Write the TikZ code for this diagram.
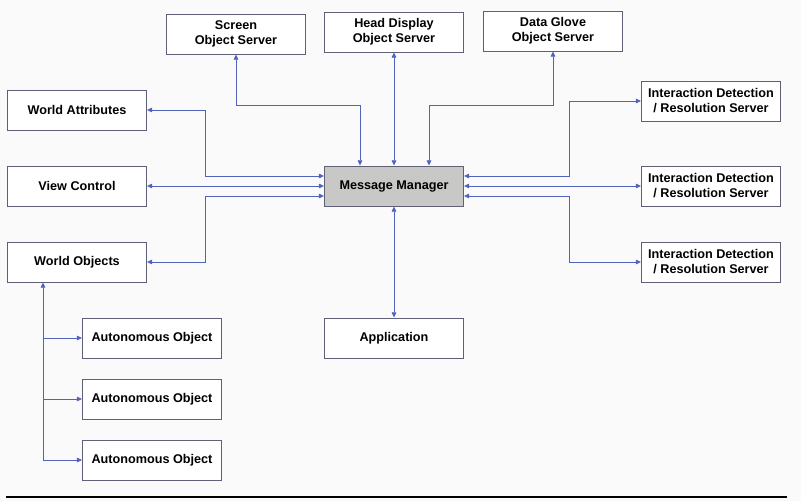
\documentclass[tikz,border=0pt]{standalone}
\usepackage{fontspec}
\setmainfont{Liberation Sans}
\usetikzlibrary{positioning,arrows.meta,calc}
\definecolor{boxline}{RGB}{95,95,120}
\definecolor{linkcol}{RGB}{80,100,190}
\definecolor{mgrfill}{RGB}{200,200,198}
\definecolor{bgcol}{RGB}{250,250,250}

\begin{document}
\begin{tikzpicture}[x=0.03cm, y=-0.03cm,
    box/.style={rectangle, draw=boxline, line width=0.8pt, fill=white, minimum width=4.17cm, minimum height=1.2cm, inner sep=1pt, align=center, font=\fontsize{10.8}{12.8}\selectfont\bfseries},
    link/.style={draw=linkcol, line width=0.7pt, {Triangle[length=4.5pt,width=4pt]}-{Triangle[length=4.5pt,width=4pt]}},
    branch/.style={draw=linkcol, line width=0.7pt, -{Triangle[length=4.5pt,width=4pt]}}]
        % Background and frame
        \fill[bgcol] (0,0) rectangle (801,501);
        \useasboundingbox (0,0) rectangle (801,501);

        % Central manager
        \node[box, fill=mgrfill] (MM) at (394,186) {Message Manager};

        % Object servers on top
        \node[box] (SOS) at (236,34) {Screen\\Object Server};
        \node[box] (HDS) at (394,32) {Head Display\\Object Server};
        \node[box] (DGS) at (553,31) {Data Glove\\Object Server};

        % Left column
        \node[box] (WA) at (77,110) {World Attributes};
        \node[box] (VC) at (77,186) {View Control};
        \node[box] (WO) at (77,262) {World Objects};

        % Right column
        \foreach \i/\y in {1/101, 2/186, 3/262} {
          \node[box] (ID\i) at (711,\y) {Interaction Detection\\/ Resolution Server};
        }

        % Application and autonomous objects
        \node[box] (App) at (394,338) {Application};
        \foreach \i/\y in {1/338, 2/399, 3/460} {
          \node[box] (AO\i) at (152,\y) {Autonomous Object};
        }

        % Links to the top servers
        \draw[link] (SOS.south) -- ++(0,51) -| ($(MM.north)+(-34,0)$);
        \draw[link] (HDS.south) -- (MM.north);
        \draw[link] (DGS.south) -- ++(0,54) -| ($(MM.north)+(35,0)$);

        % Links to the left column
        \draw[link] (WA.east) -- ++(58,0) |- ($(MM.west)+(0,-10)$);
        \draw[link] (VC.east) -- (MM.west);
        \draw[link] (WO.east) -- ++(58,0) |- ($(MM.west)+(0,10)$);

        % Links to the right column
        \draw[link] ($(MM.east)+(0,-10)$) -- ++(105,0) |- (ID1.west);
        \draw[link] (MM.east) -- (ID2.west);
        \draw[link] ($(MM.east)+(0,10)$) -- ++(105,0) |- (ID3.west);

        % Application
        \draw[link] (MM.south) -- (App.north);

        % Tree of autonomous objects
        \coordinate (wo) at ($(WO.south)+(-34,0)$);
        \draw[link] (wo) |- (AO3.west);
        \foreach \i in {1,2} {
          \draw[branch] (wo |- AO\i.west) -- (AO\i.west);
        }

        % Rule at the bottom
        \draw[line width=1.2pt] (6,497) -- (787,497);
      \end{tikzpicture}
\end{document}
